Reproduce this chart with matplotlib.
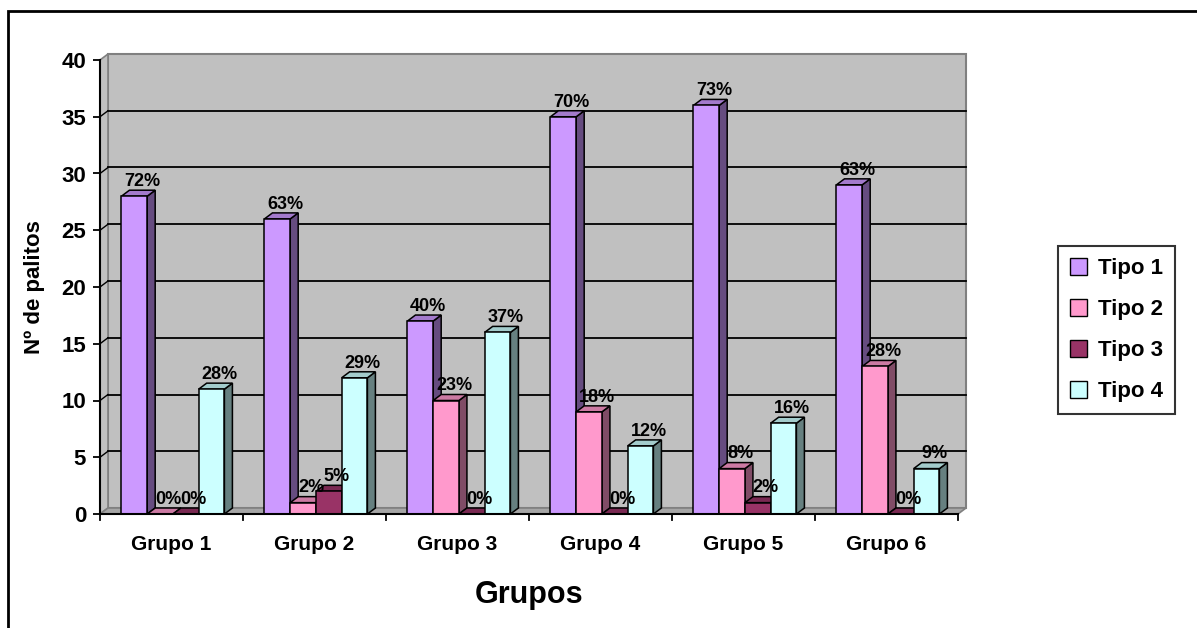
import matplotlib.pyplot as plt
from matplotlib.patches import Polygon, Rectangle, Patch

plt.rcParams["font.family"] = ["Liberation Sans", "DejaVu Sans"]
plt.rcParams["font.weight"] = "bold"

grupos = ["Grupo 1", "Grupo 2", "Grupo 3", "Grupo 4", "Grupo 5", "Grupo 6"]
tipos = ["Tipo 1", "Tipo 2", "Tipo 3", "Tipo 4"]

tipo1 = [28, 26, 17, 35, 36, 29]
tipo2 = [0, 1, 10, 9, 4, 13]
tipo3 = [0, 2, 0, 0, 1, 0]
tipo4 = [11, 12, 16, 6, 8, 4]

pct1 = ["72%", "63%", "40%", "70%", "73%", "63%"]
pct2 = ["0%", "2%", "23%", "18%", "8%", "28%"]
pct3 = ["0%", "5%", "0%", "0%", "2%", "0%"]
pct4 = ["28%", "29%", "37%", "12%", "16%", "9%"]

series = [tipo1, tipo2, tipo3, tipo4]
labels = [pct1, pct2, pct3, pct4]

# front, top, side colours (excel-ish 3d shading)
front = ["#CC99FF", "#FF99CC", "#993366", "#CCFFFF"]
top = ["#A37ACC", "#CC7AA3", "#7A2952", "#A3CCCC"]
side = ["#664C80", "#804C66", "#4D1933", "#668080"]

W, H = 1197, 628
fig = plt.figure(figsize=(W / 100, H / 100), dpi=100)
ax = fig.add_axes([100 / W, 1 - 514 / H, 858 / W, 454 / H])
ax.set_xlim(0, 6)
ax.set_ylim(0, 40)

dx = 8 / 143.0  # depth in data units
dy = 6 / 11.35

for s in ax.spines.values():
    s.set_visible(False)

# walls
ax.add_patch(Rectangle((dx, dy), 6, 40, facecolor="#C0C0C0", edgecolor="#808080",
                       lw=1.5, zorder=0, clip_on=False))
ax.add_patch(Polygon([(0, 0), (dx, dy), (dx, 40 + dy), (0, 40)], closed=True,
                     facecolor="#C0C0C0", edgecolor="#808080", lw=1.2, zorder=0.5, clip_on=False))
ax.add_patch(Polygon([(0, 0), (6, 0), (6 + dx, dy), (dx, dy)], closed=True,
                     facecolor="#A6A6A6", edgecolor="#808080", lw=1.2, zorder=0.5, clip_on=False))
for v in range(5, 40, 5):
    ax.plot([dx, 6 + dx], [v + dy, v + dy], color="black", lw=1.3, zorder=1, clip_on=False)
    ax.plot([0, dx], [v, v + dy], color="black", lw=1.0, zorder=1, clip_on=False)

bw = 0.18
off = 0.15
for g in range(len(grupos)):
    for k, vals in enumerate(series):
        v = vals[g]
        x0 = g + off + k * bw
        z = 2 + k * 0.2
        ax.add_patch(Polygon([(x0 + bw, 0), (x0 + bw + dx, dy), (x0 + bw + dx, v + dy), (x0 + bw, v)],
                             closed=True, facecolor=side[k], edgecolor="black", lw=1.1,
                             zorder=z, clip_on=False))
        ax.add_patch(Polygon([(x0, v), (x0 + dx, v + dy), (x0 + bw + dx, v + dy), (x0 + bw, v)],
                             closed=True, facecolor=top[k], edgecolor="black", lw=1.1,
                             zorder=z, clip_on=False))
        ax.add_patch(Rectangle((x0, 0), bw, v, facecolor=front[k], edgecolor="black",
                               lw=1.1, zorder=z + 0.05, clip_on=False))
        ax.annotate(labels[k][g], xy=(x0 + bw / 2 + dx, v + dy), xytext=(0, 3),
                    textcoords="offset points", ha="center", va="baseline",
                    fontsize=13, fontweight="bold", zorder=10)

# axes lines
ax.plot([0, 0], [0, 40], color="black", lw=1.5, zorder=5, clip_on=False)
ax.plot([0, 6], [0, 0], color="black", lw=1.5, zorder=5, clip_on=False)

ax.set_yticks(range(0, 41, 5))
ax.set_xticks([g + 0.5 for g in range(6)])
ax.set_xticklabels(grupos)
ax.tick_params(axis="y", length=5, width=1.3, pad=5, labelsize=16)
ax.tick_params(axis="x", length=0, pad=15, labelsize=15)
for t in ax.get_yticklabels() + ax.get_xticklabels():
    t.set_fontweight("bold")
for g in range(7):
    ax.plot([g, g], [0, -0.55], color="black", lw=1.3, zorder=5, clip_on=False)

ax.set_ylabel("Nº de palitos", fontsize=16, fontweight="bold", labelpad=12)
ax.set_xlabel("Grupos", fontsize=22, fontweight="bold", labelpad=19)

handles = [Patch(facecolor=c, edgecolor="black", lw=1.0) for c in front]
leg = fig.legend(handles, tipos, loc="upper left", bbox_to_anchor=(1058 / W, 1 - 246 / H),
                 borderaxespad=0, fancybox=False, frameon=True, edgecolor="black",
                 prop={"weight": "bold", "size": 16}, handlelength=0.75, handleheight=0.75,
                 handletextpad=0.5, labelspacing=0.9, borderpad=0.55)
leg.get_frame().set_linewidth(1.5)

fig.add_artist(Rectangle((8 / W, -0.1), 1.2, 1 - 11 / H + 0.1, transform=fig.transFigure,
                         fill=False, edgecolor="black", lw=2))

fig.savefig("out.png", dpi=100)
